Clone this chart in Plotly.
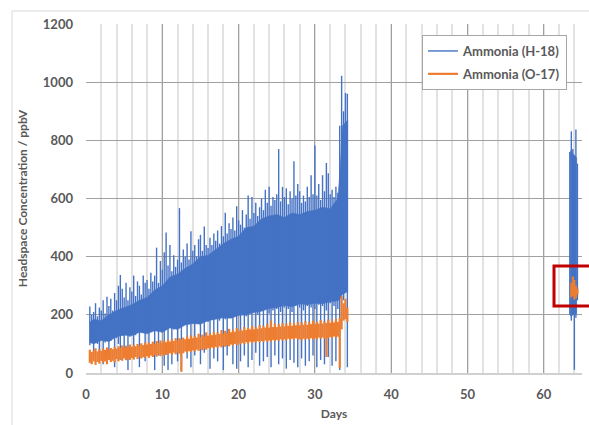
import plotly.graph_objects as go

# ---- Ammonia (H-18): first monitoring period, readings every 0.25 day ----
h18_days_a = [0.5 + 0.25 * i for i in range(136)]
h18_hi_a = [
    229, 200,
    210, 240, 195, 225,  215, 250, 205, 262,  230, 255, 215, 275,
    250, 300, 337, 290,  260, 310, 250, 295,  280, 335, 265, 315,
    300, 270, 335, 310,  320, 290, 345, 315,  335, 431, 310, 385,
    355, 415, 483, 370,  440, 350, 405, 365,  390, 567, 380, 425,
    400, 445, 390, 487,  420, 440, 400, 460,  475, 420, 504, 440,
    430, 465, 440, 480,  455, 490, 445, 505,  470, 551, 480, 515,
    495, 535, 490, 573,  525, 510, 560, 500,  545, 610, 530, 605,
    550, 585, 540, 570,  600, 560, 630, 585,  640, 575, 605, 595,
    615, 770, 590, 640,  605, 635, 580, 625,  600, 728, 610, 650,
    625, 585, 610, 590,  640, 605, 680, 615,  782, 610, 650, 595,
    680, 625, 722, 687,  615, 630, 605, 640,  620, 850, 1022, 900,
    963, 960,
]
h18_lo_a = [
    95, 120,
    60, 110, 100, 40,  115, 30, 105, 120,  55, 110, 125, 20,
    120, 100, 45, 130,  60, 135, 10, 125,  140, 50, 130, 145,
    20, 140, 150, 40,  145, 70, 150, 155,  10, 160, 60, 150,
    140, 25, 160, 10,  165, 30, 150, 170,  40, 160, 5, 175,
    165, 50, 180, 20,  170, 60, 175, 185,  30, 180, 70, 190,
    175, 15, 185, 50,  190, 40, 180, 195,  10, 185, 60, 200,
    190, 30, 195, 15,  200, 40, 210, 60,  195, 20, 205, 45,
    210, 70, 200, 25,  215, 40, 220, 55,  205, 20, 215, 60,
    220, 30, 210, 50,  225, 15, 220, 45,  210, 35, 230, 20,
    225, 50, 215, 25,  230, 40, 225, 60,  220, 20, 235, 45,
    230, 30, 215, 55,  240, 25, 230, 40,  220, 10, 300, 250,
    280, 20,
]
# dense central band of the H-18 signal (where readings overlap solidly), daily
h18_core_days_a = [0.5] + list(range(1, 34)) + [33.3, 33.6, 34.3]
h18_core_top_a = [
    175,
    185, 180, 200, 215, 225, 235, 250, 260, 285, 300,
    330, 340, 360, 375, 400, 405, 425, 445, 460, 470,
    500, 505, 530, 540, 545, 535, 550, 545, 555, 560,
    570, 565, 600,
    700, 850, 870,
]
h18_core_bot_a = [
    105,
    100, 112, 108, 125, 130, 128, 140, 135, 145, 140,
    155, 150, 165, 170, 168, 180, 185, 190, 188, 198,
    200, 208, 212, 222, 225, 232, 228, 238, 235, 240,
    238, 245, 248,
    255, 270, 280,
]

# ---- Ammonia (H-18): second monitoring period ----
h18_days_b = [63.4, 63.6, 63.8, 64.0, 64.2, 64.4]
h18_hi_b = [760, 831, 770, 745, 837, 720]
h18_lo_b = [200, 180, 230, 11, 190, 250]
h18_core_days_b = [63.45, 64.3]
h18_core_top_b = [765, 740]
h18_core_bot_b = [195, 205]

# ---- Ammonia (O-17): first monitoring period ----
o17_days_a = h18_days_a
o17_hi_a = [
    80, 72,
    78, 85, 74, 82,  76, 84, 79, 88,  80, 86, 82, 90,
    84, 92, 86, 95,  88, 94, 87, 98,  90, 97, 92, 100,
    94, 102, 96, 105,  98, 104, 100, 108,  100, 110, 103, 112,
    104, 112, 106, 115,  108, 116, 110, 120,  112, 120, 114, 122,
    116, 125, 118, 130,  120, 128, 122, 135,  124, 132, 126, 140,
    128, 136, 130, 142,  132, 140, 134, 148,  136, 145, 138, 152,
    140, 148, 142, 155,  144, 150, 146, 158,  148, 155, 150, 162,
    150, 158, 152, 165,  154, 162, 156, 168,  156, 180, 158, 170,
    158, 168, 160, 172,  160, 170, 162, 175,  162, 172, 164, 176,
    164, 174, 166, 178,  166, 175, 168, 180,  168, 176, 170, 182,
    170, 178, 172, 184,  172, 180, 174, 186,  176, 190, 265, 240,
    255, 225,
]
o17_lo_a = [
    35, 30,
    40, 28, 38, 32,  42, 35, 40, 30,  45, 38, 42, 36,
    48, 40, 46, 42,  50, 44, 48, 45,  52, 46, 55, 48,
    56, 50, 54, 52,  58, 52, 60, 55,  62, 56, 64, 58,
    64, 60, 62, 66,  68, 62, 70, 64,  70, 66, 5, 68,
    74, 70, 76, 72,  78, 74, 80, 76,  82, 78, 84, 80,
    86, 82, 88, 84,  90, 86, 92, 88,  94, 90, 96, 92,
    98, 94, 100, 96,  102, 98, 104, 100,  106, 100, 108, 104,
    108, 104, 110, 106,  110, 106, 112, 108,  112, 108, 114, 110,
    114, 110, 116, 112,  116, 112, 118, 114,  118, 114, 120, 116,
    116, 112, 118, 115,  118, 114, 120, 116,  120, 115, 122, 118,
    122, 118, 55, 120,  124, 120, 126, 122,  125, 18, 150, 180,
    185, 175,
]

# ---- Ammonia (O-17): second monitoring period ----
o17_days_b = [63.6, 63.8, 64.0, 64.2, 64.4]
o17_hi_b = [310, 332, 320, 300, 290]
o17_lo_b = [260, 265, 252, 258, 270]

x_ticks = [0, 10, 20, 30, 40, 50, 60]
y_ticks = [0, 200, 400, 600, 800, 1000, 1200]

BLUE = "#4472C4"
ORANGE = "#ED7D31"
GREY_TXT = "#595959"
FONT = "Lato"


def reading_strokes(segments):
    """One vertical stroke per reading, spanning its low and high value."""
    xs, ys = [], []
    for days, lo, hi in segments:
        for d, a, b in zip(days, lo, hi):
            xs += [d, d, None]
            ys += [a, b, None]
    return xs, ys


def band_outline(segments):
    """Closed outline of the dense band, one polygon per monitoring period."""
    xs, ys = [], []
    for days, top, bot in segments:
        if xs:
            xs.append(None)
            ys.append(None)
        xs += list(days) + list(days)[::-1]
        ys += list(top) + list(bot)[::-1]
    return xs, ys


bx, by = band_outline([(h18_core_days_a, h18_core_top_a, h18_core_bot_a),
                       (h18_core_days_b, h18_core_top_b, h18_core_bot_b)])
hx, hy = reading_strokes([(h18_days_a, h18_lo_a, h18_hi_a), (h18_days_b, h18_lo_b, h18_hi_b)])
ox, oy = reading_strokes([(o17_days_a, o17_lo_a, o17_hi_a), (o17_days_b, o17_lo_b, o17_hi_b)])

fig = go.Figure()
fig.add_trace(go.Scatter(x=bx, y=by, mode="lines", fill="toself", fillcolor=BLUE,
                         line=dict(color=BLUE, width=0.5), hoverinfo="skip",
                         showlegend=False, legendgroup="h18"))
fig.add_trace(go.Scatter(x=hx, y=hy, mode="lines", name="Ammonia (H-18)",
                         line=dict(color=BLUE, width=1.4), legendgroup="h18"))
fig.add_trace(go.Scatter(x=ox, y=oy, mode="lines", name="Ammonia (O-17)",
                         line=dict(color=ORANGE, width=2.2), legendgroup="o17"))

L, R, T, B = 86, 7, 24, 52
W, H = 589, 425
pw, ph = W - L - R, H - T - B


def px_x(p):
    return (p - L) / pw


def px_y(p):
    return (H - B - p) / ph


shapes = [
    # chart area frame
    dict(type="rect", xref="paper", yref="paper",
         x0=px_x(12), x1=px_x(620), y0=px_y(460), y1=px_y(11),
         line=dict(color="#d9d9d9", width=1), fillcolor="rgba(0,0,0,0)", layer="below"),
    # highlight box around the second-period O-17 readings
    dict(type="rect", xref="paper", yref="y",
         x0=px_x(554), x1=px_x(600), y0=230, y1=368,
         line=dict(color="#C00000", width=3), fillcolor="rgba(0,0,0,0)", layer="above"),
]

fig.update_layout(
    width=W, height=H,
    margin=dict(l=L, r=R, t=T, b=B),
    paper_bgcolor="white", plot_bgcolor="white",
    font=dict(family=FONT, color=GREY_TXT, size=12),
    showlegend=True,
    legend=dict(x=px_x(422), y=px_y(35), xanchor="left", yanchor="top",
                bordercolor="#a6a6a6", borderwidth=1, bgcolor="white",
                font=dict(family=FONT, size=13, color=GREY_TXT, weight="bold"),
                traceorder="grouped", tracegroupgap=3,
                itemwidth=30),
    shapes=shapes,
    xaxis=dict(range=[0, 65], tickvals=x_ticks, showgrid=True,
               gridcolor="#a0a0a0", gridwidth=1,
               minor=dict(dtick=2, showgrid=True, gridcolor="#e2e2e2", gridwidth=1.5),
               zeroline=False, showline=True, linecolor="#d0d0d0", linewidth=1.5,
               ticks="", ticklabelstandoff=9,
               tickfont=dict(family=FONT, size=13, color=GREY_TXT, weight="bold"),
               title=dict(text="Days", standoff=8,
                          font=dict(family=FONT, size=12, color=GREY_TXT, weight="bold"))),
    yaxis=dict(range=[0, 1200], tickvals=y_ticks, showgrid=True,
               gridcolor="#a0a0a0", gridwidth=1, zeroline=False,
               ticks="", ticklabelstandoff=12,
               tickfont=dict(family=FONT, size=13, color=GREY_TXT, weight="bold"),
               title=dict(text="Headspace Concentration / ppbV", standoff=12,
                          font=dict(family=FONT, size=12, color=GREY_TXT, weight="bold"))),
)

fig.write_html("out.html")
